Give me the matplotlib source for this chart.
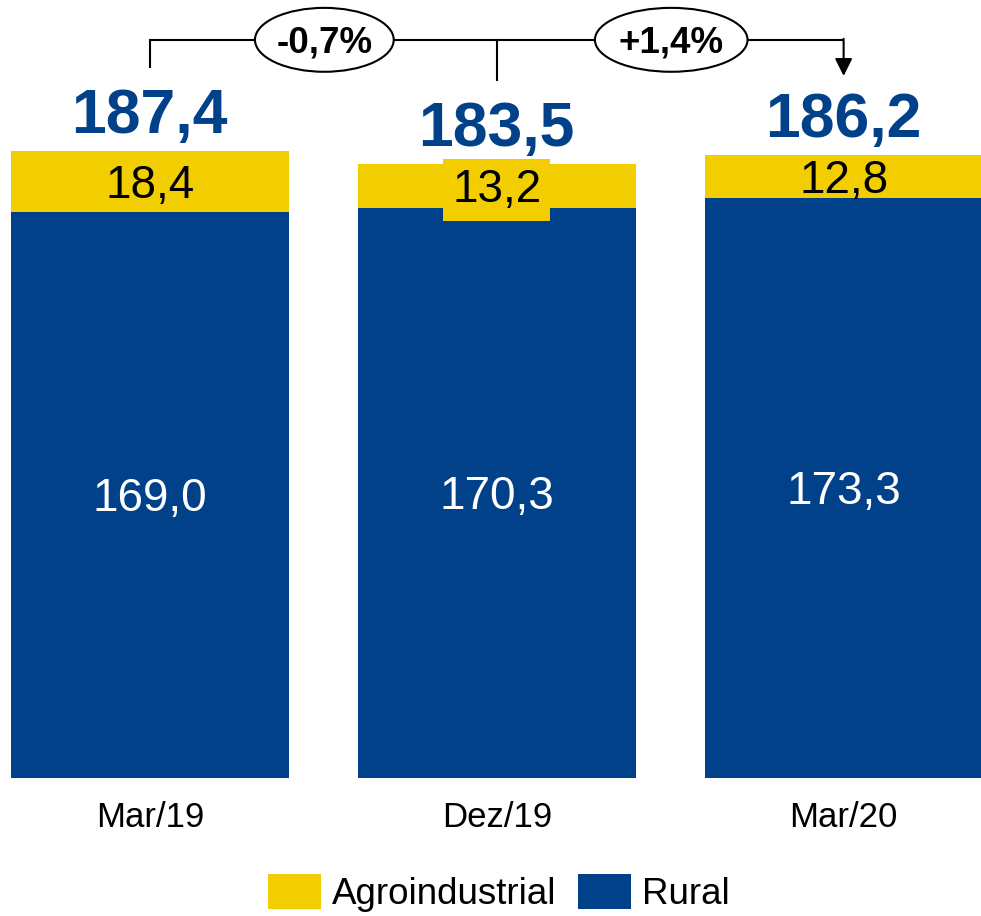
import matplotlib
matplotlib.use("Agg")
import matplotlib.pyplot as plt
from matplotlib.patches import Ellipse, Patch, FancyArrowPatch
import numpy as np

categories = ["Mar/19", "Dez/19", "Mar/20"]
rural = [169.0, 170.3, 173.3]
agro = [18.4, 13.2, 12.8]
totals = [187.4, 183.5, 186.2]
changes = ["-0,7%", "+1,4%"]

YELLOW = "#F2CE00"
BLUE = "#00418A"
FONT = ["Liberation Sans", "DejaVu Sans"]
plt.rcParams["font.family"] = FONT

def fmt(v):
    return f"{v:.1f}".replace(".", ",")

W, H = 981, 916
fig = plt.figure(figsize=(W / 100, H / 100), dpi=100)
ax_bottom_px = 777.7
ax = fig.add_axes([0, (H - ax_bottom_px) / H, 1, ax_bottom_px / H])
ax.set_xlim(-0.432, 2.396)
ax.set_ylim(0, 232.4)
ax.axis("off")

x = np.arange(len(categories))
ax.bar(x, rural, width=0.801, color=BLUE, zorder=2)
ax.bar(x, agro, bottom=rural, width=0.801, color=YELLOW, zorder=2)

inner_fs = 33
cap = 0.716
for i in range(len(x)):
    # rural label
    ax.annotate(fmt(rural[i]), xy=(x[i], rural[i] / 2), xytext=(0, -inner_fs * cap / 2),
                textcoords="offset points", ha="center", va="baseline",
                fontsize=inner_fs, color="white", zorder=5)
    # agro label
    kw = {}
    if i == 1:
        kw["bbox"] = dict(boxstyle="square,pad=0.2", fc=YELLOW, ec="none")
    ax.annotate(fmt(agro[i]), xy=(x[i], rural[i] + agro[i] / 2), xytext=(0, -inner_fs * cap / 2),
                textcoords="offset points", ha="center", va="baseline",
                fontsize=inner_fs, color="black", zorder=5, **kw)
    # total
    ax.annotate(fmt(totals[i]), xy=(x[i], rural[i] + agro[i]), xytext=(0, 12.7),
                textcoords="offset points", ha="center", va="baseline",
                fontsize=45, fontweight="bold", color=BLUE, zorder=5)
    # category label
    ax.annotate(categories[i], xy=(x[i], 0), xycoords=("data", "axes fraction"),
                xytext=(0, -35.5), textcoords="offset points", ha="center", va="baseline",
                fontsize=25, color="black", annotation_clip=False)

# bracket with change labels
br_y = max(totals) + 33.1
tick_end = [t + 25 for t in totals]
lw = 1.5
ax.plot([x[0], x[2]], [br_y, br_y], color="black", lw=lw, clip_on=False, zorder=3,
        solid_capstyle="butt")
ax.plot([x[0], x[0]], [br_y, tick_end[0]], color="black", lw=lw, clip_on=False, zorder=3)
ax.plot([x[1], x[1]], [br_y, tick_end[1]], color="black", lw=lw, clip_on=False, zorder=3)
arr = FancyArrowPatch((x[2], br_y + 0.3), (x[2], tick_end[2] - 1.5),
                      arrowstyle="-|>,head_length=0.7,head_width=0.35", mutation_scale=15,
                      color="black", lw=lw, clip_on=False, zorder=3, shrinkA=0, shrinkB=0)
ax.add_patch(arr)

ell_w = [0.40, 0.44]
pct_fs = 26.5
for j, lab in enumerate(changes):
    cx = (x[j] + x[j + 1]) / 2 + 0.003
    e = Ellipse((cx, br_y), ell_w[j], 19.1, fc="white", ec="black", lw=lw,
                clip_on=False, zorder=4)
    ax.add_patch(e)
    ax.annotate(lab, xy=(cx, br_y), xytext=(0, -pct_fs * cap / 2), textcoords="offset points",
                ha="center", va="baseline", fontsize=pct_fs, fontweight="bold",
                color="black", zorder=6, annotation_clip=False)

handles = [Patch(facecolor=YELLOW, edgecolor="none", label="Agroindustrial"),
           Patch(facecolor=BLUE, edgecolor="none", label="Rural")]
fig.legend(handles=handles, loc="center", bbox_to_anchor=(499 / W, 1 - 893 / H),
           ncol=2, frameon=False, fontsize=26.5, handlelength=1.44, handleheight=1.09,
           handletextpad=0.3, columnspacing=0.6, borderpad=0, borderaxespad=0)

fig.savefig("out.png", dpi=100)
